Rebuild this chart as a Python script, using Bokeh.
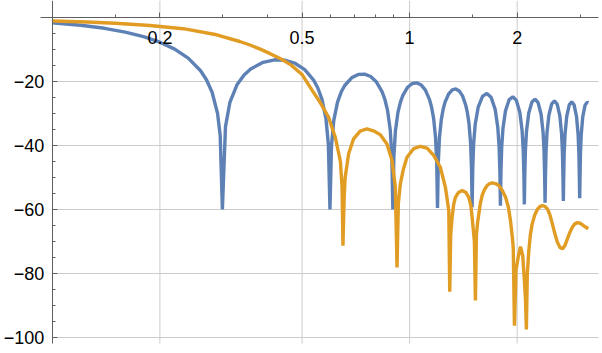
from bokeh.plotting import figure
from bokeh.models import Range1d, LogAxis, LinearAxis, FixedTicker
from bokeh.embed import file_html
from bokeh.resources import INLINE

# ---------------- data ----------------
blue_x = [
    0.10, 0.12, 0.14, 0.16, 0.18, 0.20, 0.22, 0.24, 0.26, 0.27, 0.28, 0.29, 0.295, 0.2992,
    0.3052, 0.3142, 0.3291, 0.3441, 0.3590, 0.3890, 0.4189, 0.4488, 0.4787, 0.5086, 0.5386, 0.5535, 0.5685, 0.5834, 0.5924, 0.5984,
    0.6044, 0.6134, 0.6283, 0.6433, 0.6582, 0.6882, 0.7181, 0.7480, 0.7779, 0.8078, 0.8378, 0.8527, 0.8677, 0.8826, 0.8916, 0.8976,
    0.9036, 0.9126, 0.9275, 0.9425, 0.9574, 0.9874, 1.0173, 1.0472, 1.0771, 1.1070, 1.1370, 1.1519, 1.1669, 1.1818, 1.1908, 1.1968,
    1.2028, 1.2118, 1.2267, 1.2417, 1.2566, 1.2866, 1.3165, 1.3464, 1.3763, 1.4062, 1.4362, 1.4511, 1.4661, 1.4810, 1.4900, 1.4960,
    1.5020, 1.5110, 1.5259, 1.5558, 1.6007, 1.6456, 1.6905, 1.7354, 1.7653, 1.7802, 1.7892, 1.7952,
    1.8012, 1.8102, 1.8251, 1.8550, 1.8999, 1.9448, 1.9897, 2.0346, 2.0645, 2.0794, 2.0884, 2.0944,
    2.1004, 2.1094, 2.1243, 2.1542, 2.1991, 2.2440, 2.2889, 2.3338, 2.3637, 2.3786, 2.3876, 2.3936,
    2.3996, 2.4086, 2.4235, 2.4534, 2.4983, 2.5432, 2.5881, 2.6330, 2.6629, 2.6778, 2.6868, 2.6928,
    2.6988, 2.7078, 2.7227, 2.7526, 2.7975, 2.8424, 2.8873, 2.9322, 2.9621, 2.9770, 2.9860, 2.9920,
    2.9980, 3.0070, 3.0219, 3.0518, 3.0967, 3.1416, 3.1623,
]
blue_y = [
    -1.66, -2.43, -3.38, -4.55, -5.97, -7.71, -9.89, -12.70, -16.63, -19.45, -23.37, -29.95, -36.9, -60.0,
    -34.11, -26.42, -20.91, -17.96, -16.09, -14.00, -13.22, -13.38, -14.37, -16.29, -19.56, -22.03, -25.59, -31.72, -39.79, -60.0,
    -39.96, -32.15, -26.44, -23.30, -21.25, -18.84, -17.79, -17.70, -18.45, -20.17, -23.25, -25.63, -29.11, -35.16, -43.17, -60.0,
    -43.28, -35.43, -29.64, -26.43, -24.32, -21.79, -20.63, -20.41, -21.08, -22.70, -25.68, -28.02, -31.46, -37.47, -45.48, -59.5,
    -45.54, -37.66, -31.84, -28.59, -26.44, -23.84, -22.61, -22.33, -22.94, -24.50, -27.43, -29.74, -33.16, -39.14, -47.11, -59.3,
    -47.17, -39.28, -33.43, -27.99, -24.56, -23.74, -24.92, -28.71, -34.40, -40.36, -48.32, -58.8,
    -48.36, -40.46, -34.60, -29.12, -25.65, -24.78, -25.91, -29.65, -35.31, -41.26, -49.21, -58.4,
    -49.23, -41.32, -35.45, -29.95, -26.44, -25.53, -26.61, -30.32, -35.96, -41.90, -49.85, -57.9,
    -49.87, -41.95, -36.06, -30.53, -26.97, -26.04, -27.10, -30.77, -36.38, -42.31, -50.25, -57.3,
    -50.26, -42.34, -36.44, -30.89, -27.32, -26.34, -27.36, -31.01, -36.60, -42.52, -50.46, -56.5,
    -50.46, -42.53, -36.63, -31.05, -27.44, -26.44, -26.65,
]

orange_x = [
    0.100, 0.125, 0.150, 0.1875, 0.2325, 0.2884, 0.3346, 0.3575, 0.3817, 0.407,
    0.4355, 0.4652, 0.4998, 0.5325, 0.5616, 0.5928, 0.6193, 0.6401, 0.6470, 0.6507,
    0.6560, 0.6600, 0.675, 0.697, 0.727, 0.759, 0.792, 0.827, 0.864, 0.893, 0.912, 0.922,
    0.930, 0.942, 0.960, 0.983, 1.026, 1.071, 1.119, 1.168, 1.219, 1.259, 1.287, 1.295,
    1.303, 1.315, 1.328, 1.343, 1.370, 1.403, 1.435, 1.464, 1.483, 1.496, 1.518, 1.528,
    1.538, 1.550, 1.562, 1.578, 1.596, 1.620, 1.648, 1.675, 1.702, 1.740, 1.776, 1.816, 1.856, 1.890, 1.915, 1.940, 1.950, 1.965,
    1.985, 2.013, 2.043, 2.073, 2.095, 2.110, 2.122,
    2.135, 2.156, 2.178, 2.203, 2.240, 2.277, 2.315, 2.352, 2.390, 2.430, 2.470, 2.509, 2.550, 2.591,
    2.635, 2.676, 2.720, 2.764, 2.810, 2.855, 2.900, 2.949, 3.000, 3.046, 3.100, 3.1623,
]
orange_y = [
    -1.1, -1.4, -1.8, -2.5, -3.5, -5.4, -7.5, -8.6, -9.9, -11.3,
    -12.9, -14.8, -17.8, -22.6, -26.5, -31.1, -37.4, -45.0, -53.0, -71.3,
    -56.0, -50.0, -42.6, -37.9, -35.5, -34.8, -35.4, -36.6, -39.5, -44.7, -53.0, -78.1,
    -58.0, -52.0, -47.5, -43.7, -41.0, -40.3, -40.8, -43.1, -46.8, -53.0, -60.3, -85.7,
    -68.0, -62.4, -58.5, -56.2, -54.7, -54.1, -54.6, -56.2, -58.6, -62.4, -70.0, -88.4,
    -68.0, -64.0, -61.4, -58.0, -55.6, -53.8, -52.5, -51.9, -51.7, -51.9, -52.5, -54.0, -56.2, -59.3, -63.4, -69.0, -72.0, -96.3,
    -79.0, -74.9, -71.6, -74.4, -82.2, -88.0, -97.5,
    -80.0, -72.8, -67.8, -64.5, -61.7, -60.0, -59.1, -58.75, -59.0, -59.8, -61.7, -64.5, -67.6, -70.2,
    -71.9, -72.3, -71.3, -69.2, -67.1, -65.5, -64.5, -64.1, -64.3, -64.8, -65.4, -66.0,
]

x_ticks = [0.2, 0.5, 1, 2]
x_tick_labels = ["0.2", "0.5", "1", "2"]
x_minor_ticks = [0.15, 0.3, 0.4, 0.6, 0.7, 0.8, 0.9, 1.5, 3]
y_ticks = [-100, -80, -60, -40, -20]
y_tick_labels = ["\u2212100", "\u221280", "\u221260", "\u221240", "\u221220"]
y_minor_ticks = [-95, -90, -85, -75, -70, -65, -55, -50, -45, -35, -30, -25, -15, -10, -5]

# ---------------- layout ----------------
# the frame fills the whole canvas; axes are drawn at fixed data locations
view_x = (0.0716, 3.466)
view_y = (-105.0, 5.31)
axis_x_extent = (0.0927, 3.379)
axis_y_extent = (-101.9, 5.31)
y_axis_at = 0.1
x_axis_at = 0

AXIS_COLOR = "#5f5f5f"
GRID_COLOR = "#cccccc"
FONT = "Liberation Sans"

p = figure(width=602, height=353, x_axis_type="log",
           x_range=Range1d(*view_x), y_range=Range1d(*view_y),
           output_backend="svg", toolbar_location=None,
           x_axis_location=None, y_axis_location=None,
           min_border_left=0, min_border_right=0,
           min_border_top=0, min_border_bottom=0)
p.outline_line_color = None
p.background_fill_color = "white"
p.border_fill_color = "white"
p.xgrid.visible = False
p.ygrid.visible = False

# grid lines
p.segment(x0=x_ticks, x1=x_ticks,
          y0=[axis_y_extent[0]] * len(x_ticks), y1=[axis_y_extent[1]] * len(x_ticks),
          line_color=GRID_COLOR, line_width=1)
p.segment(x0=[y_axis_at] * len(y_ticks), x1=[axis_x_extent[1]] * len(y_ticks),
          y0=y_ticks, y1=y_ticks, line_color=GRID_COLOR, line_width=1)

# curves
p.line(blue_x, blue_y, line_color="#5E81B5", line_width=3.4)
p.line(orange_x, orange_y, line_color="#E19C24", line_width=3.4)

# axes
xaxis = LogAxis(fixed_location=x_axis_at, bounds=axis_x_extent,
                ticker=FixedTicker(ticks=x_ticks, minor_ticks=x_minor_ticks),
                major_label_overrides=dict(zip(x_ticks, x_tick_labels)))
yaxis = LinearAxis(fixed_location=y_axis_at, bounds=axis_y_extent,
                   ticker=FixedTicker(ticks=y_ticks, minor_ticks=y_minor_ticks),
                   major_label_overrides=dict(zip(y_ticks, y_tick_labels)))
for ax in (xaxis, yaxis):
    ax.axis_line_color = AXIS_COLOR
    ax.axis_line_width = 1
    ax.major_tick_line_color = AXIS_COLOR
    ax.minor_tick_line_color = AXIS_COLOR
    ax.major_tick_in = 5
    ax.major_tick_out = 0
    ax.minor_tick_in = 3
    ax.minor_tick_out = 0
    ax.major_label_text_font = FONT
    ax.major_label_text_font_size = "18px"
    ax.major_label_text_color = "black"
xaxis.major_label_standoff = 14
yaxis.major_label_standoff = 8
p.add_layout(xaxis, "below")
p.add_layout(yaxis, "left")

open("out.html", "w").write(file_html(p, INLINE))
